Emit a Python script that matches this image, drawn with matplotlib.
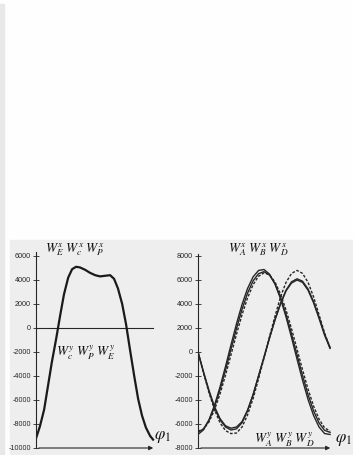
import matplotlib
matplotlib.use('Agg')
import matplotlib.pyplot as plt
from matplotlib.patches import Rectangle

plt.rcParams['font.family'] = ['Liberation Sans', 'DejaVu Sans']
plt.rcParams['axes.unicode_minus'] = False
plt.rcParams['mathtext.fontset'] = 'stix'

# 左图: 一条曲线 (角度, 值)
left_phi = [0, 12, 25, 37, 49, 62, 74, 86, 99, 111, 123, 135, 151, 166, 182,
            197, 212, 228, 240, 252, 265, 277, 289, 302, 314, 326, 338, 351, 360]
left_w = [-9200, -8200, -6800, -4800, -2800, -900, 1000, 2800, 4200, 4900, 5100,
          5050, 4850, 4600, 4400, 4300, 4350, 4400, 4100, 3300, 2000, 300, -1800,
          -4000, -5900, -7300, -8300, -9000, -9300]

# 右图: 六条曲线, 每15度一个值
right_phi = list(range(0, 361, 15))
wa_x = [-6874, -6484, -5652, -4435, -2916, -1198, 601, 2360, 3958, 5286, 6253, 6795,
        6874, 6484, 5652, 4435, 2916, 1198, -601, -2360, -3958, -5286, -6253, -6795, -6874]
wb_x = [-6696, -6407, -5682, -4569, -3146, -1507, 234, 1959, 3550, 4900, 5916, 6528,
        6696, 6407, 5682, 4569, 3146, 1507, -234, -1959, -3550, -4900, -5916, -6528, -6696]
wd_x = [-6596, -6431, -5827, -4827, -3497, -1930, -230, 1485, 3099, 4501, 5597, 6312,
        6596, 6431, 5827, 4827, 3497, 1930, 230, -1485, -3099, -4501, -5597, -6312, -6596]
wa_y = [0, -1700, -3300, -4650, -5650, -6250, -6500, -6400, -5900, -4900, -3600, -2000,
        -400, 1200, 2700, 4000, 5100, 5750, 6000, 5800, 5150, 4100, 2800, 1400, 300]
wb_y = [0, -1650, -3200, -4550, -5550, -6150, -6350, -6250, -5800, -4850, -3550, -2000,
        -450, 1150, 2700, 4050, 5150, 5850, 6100, 5900, 5250, 4200, 2900, 1500, 400]
wd_y = [0, -1750, -3400, -4800, -5900, -6550, -6800, -6750, -6250, -5250, -3900, -2250,
        -500, 1300, 3000, 4600, 5800, 6550, 6800, 6550, 5800, 4600, 3100, 1600, 300]

left_ticks = list(range(-10000, 6001, 2000))
right_ticks = list(range(-8000, 8001, 2000))

W, H = 353, 455
ink = '#262626'

fig = plt.figure(figsize=(W / 100, H / 100), dpi=100)
fig.patch.set_facecolor('#fefefe')
# 扫描页面的灰色背景
fig.patches.append(Rectangle((0, 0), 4 / W, 451 / H, transform=fig.transFigure,
                             color='#e8e8e8', zorder=-10))
fig.patches.append(Rectangle((10 / W, 0), 1 - 10 / W, 215 / H, transform=fig.transFigure,
                             color='#eeeeee', zorder=-10))


def style_axis(ax, ticks):
    ax.set_facecolor('none')
    for s in ['top', 'right', 'bottom']:
        ax.spines[s].set_visible(False)
    ax.spines['left'].set_color(ink)
    ax.spines['left'].set_linewidth(0.8)
    ax.set_xticks([])
    ax.set_yticks(ticks)
    ax.tick_params(axis='y', direction='inout', length=4, width=0.6,
                   labelsize=5.2, pad=1.5, colors=ink)
    ax.annotate('', xy=(1, 0), xytext=(0, 0), xycoords='axes fraction',
                arrowprops=dict(arrowstyle='-|>', lw=0.8, color=ink, mutation_scale=6))


# 左图
ax1 = fig.add_axes([36 / W, 7 / H, 120 / W, 195.6 / H], zorder=2)
style_axis(ax1, left_ticks)
ax1.set_xlim(0, 369)
ax1.set_ylim(-10000, 6300)
ax1.axhline(0, xmin=0, xmax=0.975, color=ink, lw=0.8)
ax1.plot(left_phi, left_w, color='#1a1a1a', lw=1.6)

# 右图
ax2 = fig.add_axes([198 / W, 7 / H, 135 / W, 194.4 / H], zorder=2)
style_axis(ax2, right_ticks)
ax2.set_xlim(0, 368)
ax2.set_ylim(-8000, 8200)
ax2.plot(right_phi, wa_x, color=ink, lw=1.0)
ax2.plot(right_phi, wb_x, color=ink, lw=1.0)
ax2.plot(right_phi, wd_x, color=ink, lw=1.0, dashes=(2, 1.2))
ax2.plot(right_phi, wa_y, color=ink, lw=1.0)
ax2.plot(right_phi, wb_y, color=ink, lw=1.0)
ax2.plot(right_phi, wd_y, color=ink, lw=1.0, dashes=(2, 1.2))

# 文字标注
def label(x, y, s, size=9.5):
    fig.text(x / W, 1 - y / H, s, fontsize=size, ha='center', va='center', color='#111111')

label(75, 250, r'$W_E^x\ W_c^x\ W_P^x$')
label(86, 353, r'$W_c^y\ W_P^y\ W_E^y$')
label(258, 250, r'$W_A^x\ W_B^x\ W_D^x$')
label(284, 440, r'$W_A^y\ W_B^y\ W_D^y$')
label(162, 437, r'$\varphi_1$', 12)
label(343, 440, r'$\varphi_1$', 12)

fig.savefig('out.png', dpi=100)
